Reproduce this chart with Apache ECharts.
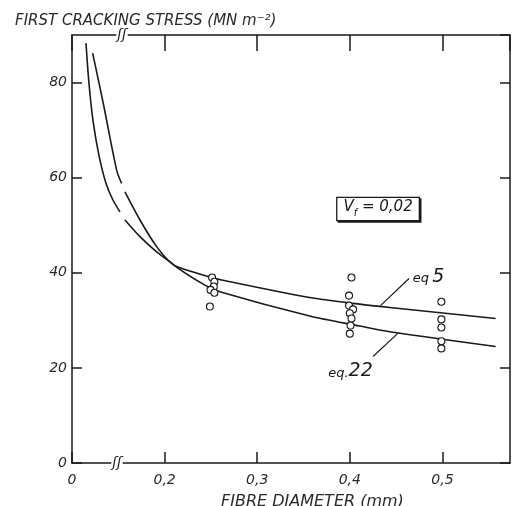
<!DOCTYPE html>
<html><head><meta charset="utf-8">
<script src="https://cdn.jsdelivr.net/npm/echarts@6/dist/echarts.min.js"></script>
<style>html,body{margin:0;padding:0;background:#fff}#c{width:512px;height:506px}</style>
</head><body><div id="c"></div>
<script>
// Axis ticks (x axis is drawn with a break: visual position 0.1 is labelled "0")
const xTickValues = [0.1, 0.2, 0.3, 0.4, 0.5];
const xTickLabels = ['0', '0,2', '0,3', '0,4', '0,5'];
const yTickValues = [0, 20, 40, 60, 80];

// eq 5 curve (null = gap at the axis break)
const eq5X = [0.1151, 0.1183, 0.1226, 0.1291, 0.1366, 0.1442, 0.1518, null, 0.1572, 0.1734, 0.1914, 0.2058, 0.2130, 0.2471, 0.2615, 0.3567, 0.4107, 0.4431, 0.5575];
const eq5Y = [88.3, 79.9, 72.1, 64.7, 58.9, 55.3, 52.8, null, 51.1, 47.6, 44.4, 42.3, 41.3, 39.2, 38.5, 34.8, 33.4, 32.7, 30.4];

// eq 22 curve
const eq22X = [0.1223, 0.1338, 0.1482, 0.1536, null, 0.1572, 0.1734, 0.1914, 0.2076, 0.2436, 0.2615, 0.3567, 0.4107, 0.4431, 0.5575];
const eq22Y = [86.2, 75.6, 61.6, 58.8, null, 57.0, 51.1, 45.5, 42.0, 37.4, 35.9, 30.9, 28.8, 27.6, 24.5];

// Measured points
const ptsX = [0.2513, 0.2538, 0.2531, 0.2496, 0.2538, 0.2489,
              0.4018, 0.3992, 0.3992, 0.4035, 0.4000, 0.4018, 0.4008, 0.4000,
              0.4989, 0.4989, 0.4989, 0.4989, 0.4989];
const ptsY = [39.0, 38.1, 37.1, 36.4, 35.8, 32.9,
              39.0, 35.2, 33.1, 32.3, 31.5, 30.4, 28.9, 27.2,
              33.9, 30.2, 28.5, 25.6, 24.1];

const zip = (a, b) => a.map((v, i) => (v === null ? [null, null] : [v, b[i]]));
const INK = '#1a1a1a';
const FONT = 'DejaVu Sans';

const chart = echarts.init(document.getElementById('c'), null, {renderer: 'canvas'});

const axisCommon = {
  type: 'value',
  axisLine: {show: true, onZero: false, lineStyle: {color: INK, width: 1.5}},
  splitLine: {show: false},
  axisTick: {show: true, inside: true, lineStyle: {color: INK, width: 1.5}}
};

chart.setOption({
  animation: false,
  backgroundColor: '#fff',
  title: [
    {text: 'FIRST CRACKING STRESS (MN m⁻²)', left: 10, top: 9,
     textStyle: {fontFamily: FONT, fontStyle: 'italic', fontWeight: 'normal', fontSize: 15, color: '#2a2a2a'}},
    {text: 'FIBRE DIAMETER (mm)', left: 216, top: 489,
     textStyle: {fontFamily: FONT, fontStyle: 'italic', fontWeight: 'normal', fontSize: 16, color: '#2a2a2a'}}
  ],
  grid: {left: 72, right: 2, top: 35, bottom: 43},
  xAxis: [
    Object.assign({}, axisCommon, {
      position: 'bottom', min: 0.1, max: 0.573, interval: 0.1,
      axisTick: {show: true, inside: true, length: 11, lineStyle: {color: INK, width: 1.5}},
      axisLabel: {
        margin: 10, fontSize: 14, fontStyle: 'italic', fontFamily: FONT, color: '#2a2a2a', showMaxLabel: false,
        formatter: v => { const i = xTickValues.findIndex(t => Math.abs(t - v) < 1e-6); return i < 0 ? '' : xTickLabels[i]; }
      }
    }),
    Object.assign({}, axisCommon, {
      position: 'top', min: 0.1, max: 0.573, interval: 0.1,
      axisTick: {show: true, inside: true, length: 16, lineStyle: {color: INK, width: 1.5}},
      axisLabel: {show: false}
    })
  ],
  yAxis: [
    Object.assign({}, axisCommon, {
      position: 'left', min: 0, max: 90, interval: 20,
      axisTick: {show: true, inside: true, length: 10, lineStyle: {color: INK, width: 1.5}},
      axisLabel: {
        margin: 5, fontSize: 14, fontStyle: 'italic', fontFamily: FONT, color: '#2a2a2a', showMaxLabel: false,
        formatter: v => (yTickValues.indexOf(Math.round(v)) >= 0 && Math.abs(v - Math.round(v)) < 1e-6 ? String(Math.round(v)) : '')
      }
    }),
    Object.assign({}, axisCommon, {
      position: 'right', min: 0, max: 90, interval: 20,
      axisTick: {show: true, inside: true, length: 10, lineStyle: {color: INK, width: 1.5}},
      axisLabel: {show: false}
    })
  ],
  series: [
    {
      name: 'eq 5', type: 'line', data: zip(eq5X, eq5Y), showSymbol: false,
      smooth: 0.3, connectNulls: false,
      lineStyle: {color: INK, width: 1.6}, z: 2,
      markLine: {
        silent: true, symbol: ['none', 'arrow'], symbolSize: [0, 8],
        lineStyle: {color: INK, width: 1.2, type: 'solid'},
        label: {show: false},
        data: [
          [{coord: [0.4640, 38.8]}, {coord: [0.4331, 33.1]}],
          [{coord: [0.4251, 22.4]}, {coord: [0.4521, 27.3]}]
        ]
      },
      markPoint: {
        silent: true, symbol: 'circle', symbolSize: 0,
        data: [
          {coord: [0.468, 39.2], label: {show: true, position: 'inside', align: 'left', verticalAlign: 'middle',
            formatter: '{a|eq} {b|5}',
            rich: {a: {fontFamily: FONT, fontStyle: 'italic', fontSize: 13, color: INK, verticalAlign: 'bottom', padding: [0, 0, 1, 0]},
                   b: {fontFamily: FONT, fontStyle: 'italic', fontSize: 19, color: INK, verticalAlign: 'bottom'}}}},
          {coord: [0.4248, 19.3], label: {show: true, position: 'inside', align: 'right', verticalAlign: 'middle',
            formatter: '{a|eq.}{b|22}',
            rich: {a: {fontFamily: FONT, fontStyle: 'italic', fontSize: 13, color: INK, verticalAlign: 'bottom', padding: [0, 0, 1, 0]},
                   b: {fontFamily: FONT, fontStyle: 'italic', fontSize: 19, color: INK, verticalAlign: 'bottom'}}}},
          {coord: [0.4305, 53.4], label: {show: true, position: 'inside', align: 'center', verticalAlign: 'middle',
            formatter: '{v|V}{s|f}{e| = 0,02}',
            backgroundColor: '#fff', borderColor: INK, borderWidth: 1.3, padding: [2, 6, 2, 6],
            shadowColor: INK, shadowOffsetX: 1.5, shadowOffsetY: 1.5, shadowBlur: 0,
            rich: {v: {fontFamily: FONT, fontStyle: 'italic', fontSize: 15, color: INK, verticalAlign: 'bottom', padding: [0, 0, 3, 0]},
                   s: {fontFamily: FONT, fontStyle: 'italic', fontSize: 10, color: INK, verticalAlign: 'bottom'},
                   e: {fontFamily: FONT, fontStyle: 'italic', fontSize: 15, color: INK, verticalAlign: 'bottom', padding: [0, 0, 3, 0]}}}},
          {coord: [0.1486, 0], label: {show: true, position: 'inside', align: 'center', verticalAlign: 'middle',
            formatter: 'ʃʃ', backgroundColor: '#fff', padding: [0, 1, 0, 1],
            fontFamily: FONT, fontStyle: 'italic', fontSize: 14, color: INK}},
          {coord: [0.154, 90], label: {show: true, position: 'inside', align: 'center', verticalAlign: 'middle',
            formatter: 'ʃʃ', backgroundColor: '#fff', padding: [0, 1, 0, 1],
            fontFamily: FONT, fontStyle: 'italic', fontSize: 14, color: INK}}
        ]
      }
    },
    {
      name: 'eq 22', type: 'line', data: zip(eq22X, eq22Y), showSymbol: false,
      smooth: 0.3, connectNulls: false,
      lineStyle: {color: INK, width: 1.6}, z: 2
    },
    {
      name: 'measured', type: 'scatter', data: zip(ptsX, ptsY),
      symbol: 'circle', symbolSize: 7,
      itemStyle: {color: '#fff', borderColor: INK, borderWidth: 1.1, opacity: 1}, z: 5
    }
  ]
});
</script>
</body></html>
